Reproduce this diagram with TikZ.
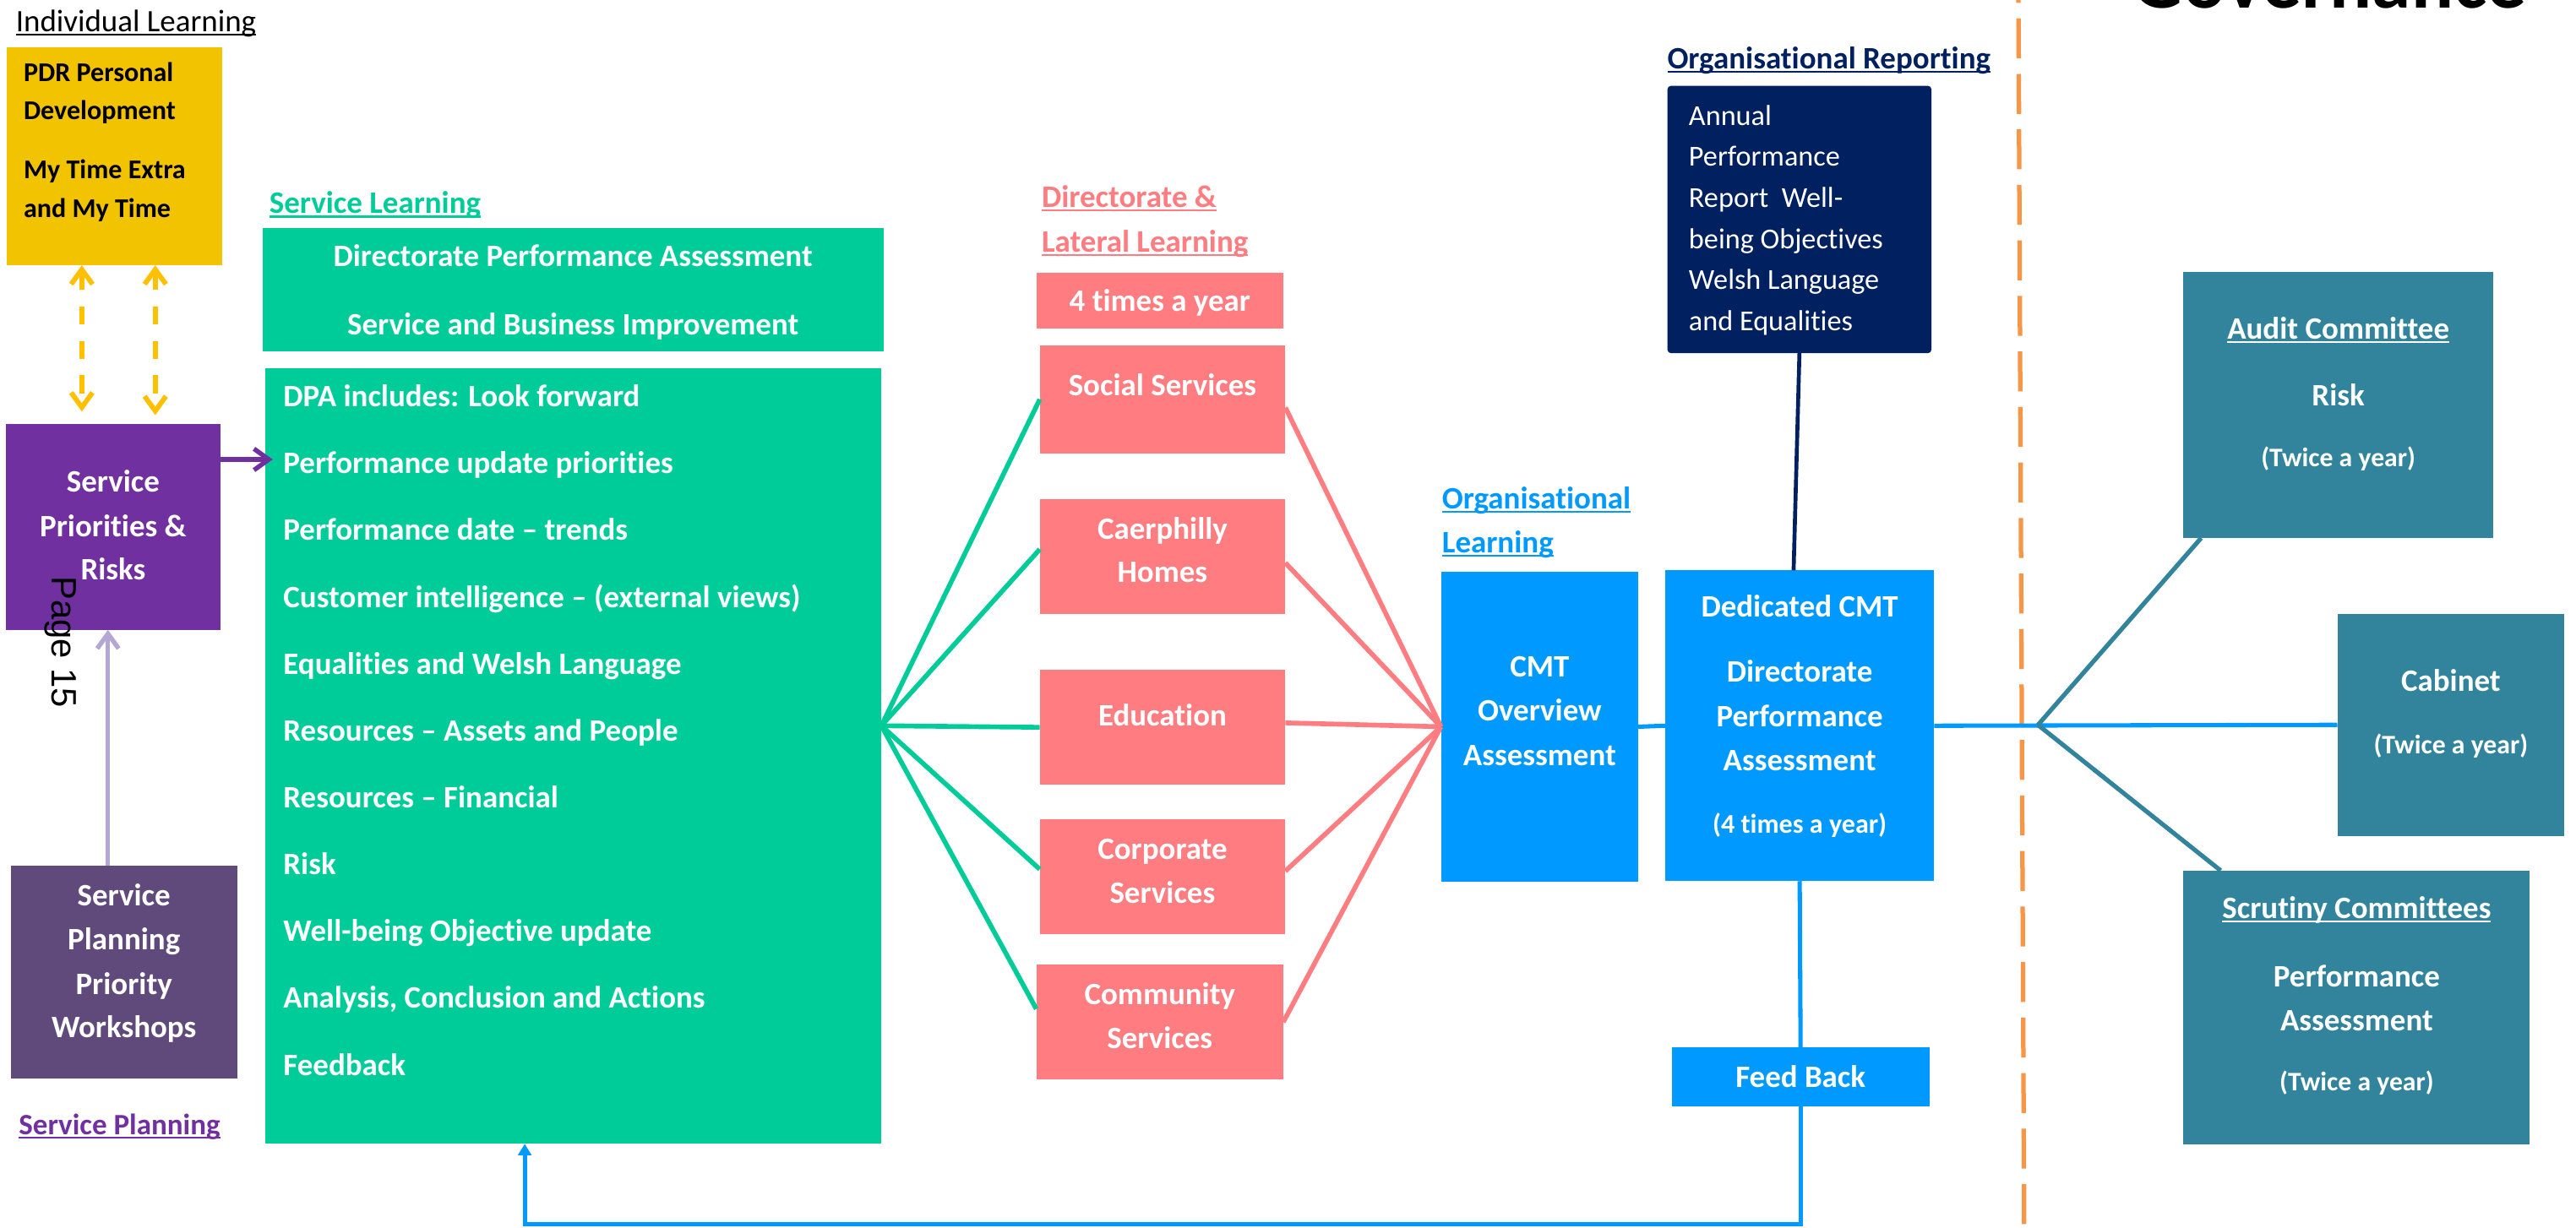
\documentclass[tikz,border=0pt]{standalone}
\usepackage{fontspec}
\setmainfont{Carlito}[Ligatures={TeX,NoCommon}]
\newfontfamily\arialfont{Liberation Sans}
\usetikzlibrary{arrows.meta,calc}
\definecolor{cyel}{RGB}{242,195,0}
\definecolor{cdash}{RGB}{255,192,0}
\definecolor{cpur}{RGB}{112,48,160}
\definecolor{csp}{RGB}{96,74,123}
\definecolor{clav}{RGB}{180,167,214}
\definecolor{cgreen}{RGB}{0,204,153}
\definecolor{cpink}{RGB}{255,124,128}
\definecolor{cblue}{RGB}{0,153,255}
\definecolor{cnavy}{RGB}{0,32,96}
\definecolor{cteal}{RGB}{49,132,155}
\definecolor{corange}{RGB}{247,150,70}
\newcommand\myul[1]{\setbox0=\hbox{#1}\rlap{\rule[-0.13em]{\wd0}{0.06em}}\box0}
\newcommand\mkbox[6]{\node[bx,fill=#2,minimum width=#5pt,minimum height=#6pt,anchor=north west] (#1) at (#3,#4) {};}
\tikzset{
  bx/.style={inner sep=0pt, outer sep=0pt, draw=none},
  tx/.style={inner sep=0pt, outer sep=0pt, anchor=base, text=white, font=\bfseries\fontsize{19}{19}\selectfont},
  txl/.style={tx, anchor=base west},
  sm/.style={font=\bfseries\fontsize{16.3}{16.3}\selectfont},
  conn/.style={line width=2.9pt},
  bconn/.style={line width=2.6pt, cblue},
  barb/.style={-{Straight Barb[length=9pt,width=13pt]}},
  ydash/.style={line width=3pt, cdash, dash pattern=on 11pt off 10pt, {Straight Barb[length=9pt,width=13pt]}-{Straight Barb[length=9pt,width=13pt]}},
}
\begin{document}
\begin{tikzpicture}[x=1pt,y=-1pt]
\fill[white] (0,0) rectangle (1568,747.7);
\useasboundingbox (0,0) rectangle (1568,747.7);

% orange dashed divider
\coordinate (ot) at (1228.6,0);
\coordinate (ob) at (1232.1,747.7);
\draw[line width=2.7pt, corange, dash pattern=on 24.3pt off 9.5pt, dash phase=22.6pt] (ot) -- (ob);

% boxes
\mkbox{yel}{cyel}{4.3}{28.8}{131}{132.7}
\mkbox{pri}{cpur}{3.6}{258}{130.6}{125.5}
\mkbox{sp}{csp}{6.5}{527}{137.9}{129.7}
\mkbox{gtop}{cgreen}{160}{139}{377.7}{75}
\mkbox{gbig}{cgreen}{161.3}{224}{375.3}{472.5}
\mkbox{times}{cpink}{630.8}{166}{150.3}{34.3}
\mkbox{social}{cpink}{632.9}{210.3}{149.5}{65.7}
\mkbox{caer}{cpink}{632.9}{303.8}{149.5}{70.3}
\mkbox{edu}{cpink}{632.9}{407.7}{149.5}{70.3}
\mkbox{corp}{cpink}{632.9}{499}{149.5}{70}
\mkbox{comm}{cpink}{630.8}{587.4}{150.3}{69.9}
\mkbox{cmt}{cblue}{877.1}{348.2}{120.1}{188.6}
\mkbox{ded}{cblue}{1013.6}{347.3}{163.7}{189.2}
\node[bx,fill=cnavy,rounded corners=2pt,minimum width=160.6pt,minimum height=162.7pt,anchor=north west] (orep) at (1015,52.3) {};
\mkbox{fb}{cblue}{1017.6}{637.6}{156.8}{36.3}
\mkbox{audit}{cteal}{1329}{165.6}{188.5}{162}
\mkbox{cab}{cteal}{1422.7}{373.8}{138.1}{135.1}
\mkbox{scr}{cteal}{1329}{530.1}{210.9}{166.5}

% titles
\node[txl, text=black, font=\fontsize{19}{19}\selectfont] (tIL) at (9.7,19.2) {\myul{Individual Learning}};
\node[txl, text=cgreen] (tSL) at (164,130) {\myul{Service Learning}};
\node[txl, text=cpur, font=\bfseries\fontsize{18}{18}\selectfont] (tSP) at (11.5,690.9) {\myul{Service Planning}};
\node[txl, text=cpink] (tDL1) at (634.1,126.3) {\myul{Directorate \&}};
\node[txl, text=cpink] (tDL2) at (634.1,153.4) {\myul{Lateral Learning}};
\node[txl, text=cblue] (tOL1) at (877.8,309.6) {\myul{Organisational}};
\node[txl, text=cblue] (tOL2) at (877.8,336.6) {\myul{Learning}};
\node[txl, text=cnavy] (tOR) at (1014.9,42) {\myul{Organisational Reporting}};
\node[txl, text=black, font=\bfseries\fontsize{48}{48}\selectfont] (tGov) at (1298.5,5.1) {Governance};

% yellow box text
\node[txl, text=black, font=\bfseries\fontsize{16.5}{16.5}\selectfont] (y1) at (14.4,49.7) {PDR Personal};
\node[txl, text=black, font=\bfseries\fontsize{16.5}{16.5}\selectfont] (y2) at (14.4,72.8) {Development};
\node[txl, text=black, font=\bfseries\fontsize{16.5}{16.5}\selectfont] (y3) at (14.4,109) {My Time Extra};
\node[txl, text=black, font=\bfseries\fontsize{16.5}{16.5}\selectfont] (y4) at (14.4,132.5) {and My Time};

% purple box text
\node[tx] (p1) at (68.9,299.6) {Service};
\node[tx] (p2) at (68.9,326.7) {Priorities \&};
\node[tx] (p3) at (68.9,353.2) {Risks};
\node[rotate=-90, anchor=base west, inner sep=0pt, font=\arialfont\fontsize{21.5}{21.5}\selectfont] (pg) at (31.5,350.7) {Page 15};

% service planning box text
\node[tx] (s1) at (75.45,551.3) {Service};
\node[tx] (s2) at (75.45,578.4) {Planning};
\node[tx] (s3) at (75.45,605.3) {Priority};
\node[tx] (s4) at (75.45,631.7) {Workshops};

% green boxes text
\node[tx] (g1) at (348.8,162.5) {Directorate Performance Assessment};
\node[tx] (g2) at (348.8,204) {Service and Business Improvement};
\foreach \t [count=\i] in {DPA includes: Look forward, Performance update priorities, Performance date \textendash{} trends, Customer intelligence \textendash{} (external views), Equalities and Welsh Language, Resources \textendash{} Assets and People, Resources \textendash{} Financial, Risk, Well-being Objective update, {Analysis, Conclusion and Actions}, Feedback}
  \node[txl] (gl\i) at (172.5,{247.7+40.7*(\i-1)}) {\t};

% pink boxes text
\node[tx] (k0) at (706,189.4) {4 times a year};
\node[tx] (k1) at (707.6,241) {Social Services};
\node[tx] (k2a) at (707.6,328.3) {Caerphilly};
\node[tx] (k2b) at (707.6,354.7) {Homes};
\node[tx] (k3) at (707.6,442) {Education};
\node[tx] (k4a) at (707.6,523.2) {Corporate};
\node[tx] (k4b) at (707.6,550.2) {Services};
\node[tx] (k5a) at (706,611.5) {Community};
\node[tx] (k5b) at (706,638.6) {Services};

% CMT box text
\node[tx] (c1) at (937.2,412.4) {CMT};
\node[tx] (c2) at (937.2,439.1) {Overview};
\node[tx] (c3) at (937.2,466.2) {Assessment};

% dedicated CMT text
\node[tx] (d1) at (1095.45,375.7) {Dedicated CMT};
\node[tx] (d2) at (1095.45,415.4) {Directorate};
\node[tx] (d3) at (1095.45,442.7) {Performance};
\node[tx] (d4) at (1095.45,469.5) {Assessment};
\node[tx, font=\bfseries\fontsize{16.5}{16.5}\selectfont] (d5) at (1095.45,507.4) {(4 times a year)};

% organisational reporting text
\foreach \t [count=\i] in {Annual, Performance, Report\ \ Well-, being Objectives, Welsh Language, and Equalities}
  \node[txl, font=\fontsize{17.6}{17.6}\selectfont] (r\i) at (1028,{76.3+25*(\i-1)}) {\t};

\node[tx] (f1) at (1096,662.2) {Feed Back};

% governance boxes text
\node[tx] (a1) at (1423.3,206.5) {\myul{Audit Committee}};
\node[tx] (a2) at (1423.3,247) {Risk};
\node[tx, sm] (a3) at (1423.3,284.1) {(Twice a year)};
\node[tx] (b1) at (1491.8,421.1) {Cabinet};
\node[tx, sm] (b2) at (1491.8,458.9) {(Twice a year)};
\node[tx] (q1) at (1434.5,559.3) {\myul{Scrutiny Committees}};
\node[tx] (q2) at (1434.5,600.9) {Performance};
\node[tx] (q3) at (1434.5,627.4) {Assessment};
\node[tx, sm] (q4) at (1434.5,664.4) {(Twice a year)};

% connectors
\draw[ydash] ([xshift=-20pt]yel.south) -- ([xshift=-19.1pt,yshift=7.4pt]pri.north);
\draw[ydash] ([xshift=24.7pt]yel.south) -- ([xshift=25.6pt,yshift=5.2pt]pri.north);

\coordinate (pa) at ([yshift=41pt]pri.east);
\draw[line width=2.8pt, cpur, barb, shorten >=-4.7pt] (pa) -- (pa -| gbig.west);

\coordinate (la) at ([xshift=-9.75pt]sp.north);
\draw[line width=2.8pt, clav, barb] (la) -- (la |- pri.south);

\coordinate (gf) at (536.5,441.9);
\foreach \n/\s in {social/0, caer/4.5, edu/0, corp/4.7, comm/8}
  \draw[conn, cgreen] (gf) -- ([yshift=\s pt]\n.west);

\foreach \n/\s in {social/-5, caer/-3.8, edu/2.7, corp/3.6, comm/0}
  \draw[conn, cpink] ([yshift=\s pt]\n.east) -- (cmt.west);

\draw[bconn] (cmt.east) -- (ded.west);
\draw[bconn] (ded.east) -- (cab.west);
\draw[bconn] (ded.south) -- (fb.north);
\coordinate (lb) at (1096,745.4);
\coordinate (gin) at (319.4,696.5);
\draw[bconn, -{Triangle[length=7pt,width=8pt]}] (fb.south) -- (lb) -| (gin);

\draw[line width=2.4pt, cnavy] (orep.south) -- ([xshift=-3.7pt]ded.north);

\coordinate (jn) at (1240.5,441.4);
\draw[line width=2.7pt, cteal] (jn) -- ([xshift=10.8pt]audit.south west);
\draw[line width=2.7pt, cteal] (jn) -- ([xshift=22.7pt]scr.north west);
\end{tikzpicture}
\end{document}
